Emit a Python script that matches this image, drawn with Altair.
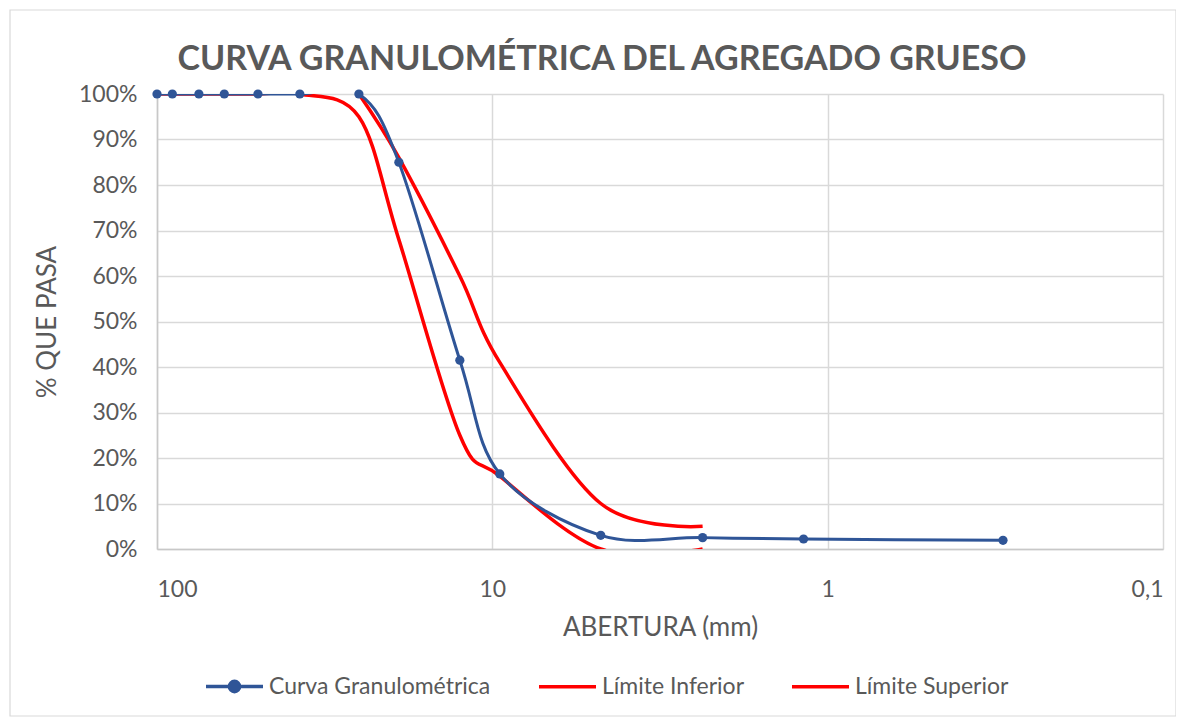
import altair as alt
import pandas as pd

# ---- data ----
sizes_curva = [100, 90, 75, 63, 50, 37.5, 25, 19, 12.5, 9.5, 4.75, 2.36, 1.18, 0.3]
pct_curva = [100, 100, 100, 100, 100, 100, 100, 85, 41.5, 16.5, 3, 2.5, 2.2, 1.9]

sizes_inf = [100, 90, 75, 63, 50, 37.5, 25, 19, 12.5, 9.5, 4.75, 2.36]
pct_inf = [100, 100, 100, 100, 100, 100, 95, 68, 25, 16, 0, 0]

sizes_sup = [25, 19, 12.5, 9.5, 4.75, 2.36]
pct_sup = [100, 86, 60, 41, 10, 5]

x_ticks = [100, 10, 1, 0.1]
y_ticks = [0, 10, 20, 30, 40, 50, 60, 70, 80, 90, 100]

S_CURVA = "Curva Granulométrica"
S_INF = "Límite Inferior"
S_SUP = "Límite Superior"

curva_df = pd.DataFrame({"abertura": sizes_curva, "pasa": pct_curva, "serie": S_CURVA})
lim_df = pd.concat([
    pd.DataFrame({"abertura": sizes_inf, "pasa": pct_inf, "serie": S_INF}),
    pd.DataFrame({"abertura": sizes_sup, "pasa": pct_sup, "serie": S_SUP}),
])

FONT = "Lato"
GRAY = "#595959"
BLUE = "#2F5597"
RED = "#FF0000"

x_enc = alt.X(
    "abertura:Q",
    scale=alt.Scale(type="log", domain=[0.1, 100], reverse=True, nice=False),
    axis=alt.Axis(
        values=x_ticks,
        title="ABERTURA (mm)",
        labelExpr="replace(format(datum.value, '~g'), '.', ',')",
        labelPadding=29,
        titlePadding=13,
    ),
)
y_enc = alt.Y(
    "pasa:Q",
    scale=alt.Scale(domain=[0, 100], nice=False),
    axis=alt.Axis(
        values=y_ticks,
        title="% QUE PASA",
        labelExpr="datum.value + '%'",
        labelPadding=20,
        titlePadding=18,
    ),
)

frame = alt.Chart(pd.DataFrame({"k": [0]})).mark_rect(
    fill=None, stroke="#d9d9d9", strokeWidth=1.2, clip=False
).encode(
    x=alt.value(-147), x2=alt.value(1019), y=alt.value(-84), y2=alt.value(622)
)

red = alt.Chart(lim_df).mark_line(strokeWidth=3.5, interpolate="cardinal", clip=True).encode(
    x=x_enc,
    y=y_enc,
    color=alt.Color(
        "serie:N",
        scale=alt.Scale(domain=[S_INF, S_SUP], range=[RED, RED]),
        legend=alt.Legend(
            title=None,
            orient="none",
            direction="horizontal",
            legendX=380,
            legendY=562,
            symbolType="stroke",
            columnPadding=40,
        ),
    ),
)

blue = alt.Chart(curva_df).mark_line(
    strokeWidth=3,
    interpolate="cardinal",
    clip=True,
    point=alt.OverlayMarkDef(filled=True, size=85, color=BLUE, clip=False),
).encode(
    x=x_enc,
    y=y_enc,
    color=alt.Color(
        "serie:N",
        scale=alt.Scale(domain=[S_CURVA], range=[BLUE]),
        legend=alt.Legend(
            title=None,
            orient="none",
            direction="horizontal",
            legendX=47,
            legendY=562,
            symbolType="M-1,0L1,0M-0.06,0A0.06,0.06 0 1,0 0.06,0A0.06,0.06 0 1,0 -0.06,0M-0.12,0A0.12,0.12 0 1,0 0.12,0A0.12,0.12 0 1,0 -0.12,0M-0.18,0A0.18,0.18 0 1,0 0.18,0A0.18,0.18 0 1,0 -0.18,0",
        ),
    ),
)

chart = (
    alt.layer(frame, red, blue)
    .resolve_scale(color="independent")
    .resolve_legend(color="independent")
    .properties(
        width=1006,
        height=455,
        autosize="none",
        padding={"left": 149, "top": 86, "right": 13, "bottom": 169},
        title=alt.TitleParams(
            text="CURVA GRANULOMÉTRICA DEL AGREGADO GRUESO",
            font=FONT,
            fontSize=34,
            fontWeight="bold",
            color=GRAY,
            anchor="middle",
            dx=-58,
            dy=74,
            offset=6,
        ),
    )
    .configure_view(stroke=None)
    .configure_axis(
        labelFont=FONT,
        labelFontSize=23,
        labelColor=GRAY,
        titleFont=FONT,
        titleFontSize=26,
        titleColor=GRAY,
        titleFontWeight="normal",
        gridColor="#d9d9d9",
        gridWidth=1.5,
        domainColor="#c8c8c8",
        domainWidth=1.5,
        ticks=False,
        tickSize=0,
    )
    .configure_legend(
        labelFont=FONT,
        labelFontSize=23,
        labelColor=GRAY,
        labelLimit=0,
        symbolSize=3249,
        symbolStrokeWidth=3.5,
        labelOffset=4,
    )
)

chart.save("out.html", embed_options={"renderer": "svg", "actions": False})
